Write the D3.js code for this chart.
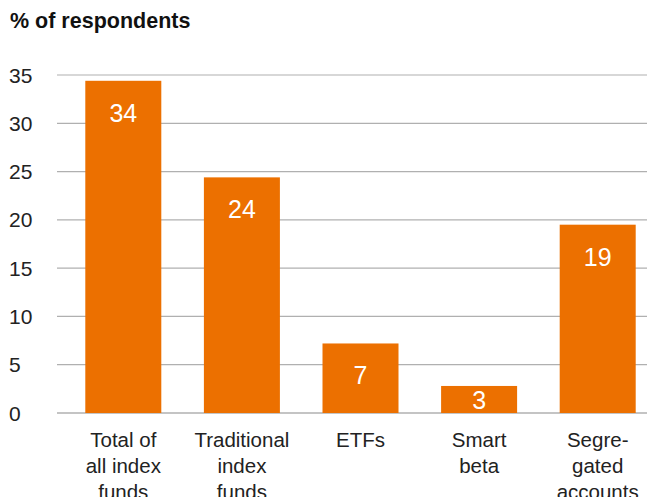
<!DOCTYPE html>
<html><head><meta charset="utf-8">
<script src="https://cdn.jsdelivr.net/npm/d3@7"></script>
<style>body{margin:0;background:#fff}svg{display:block;font-family:"Liberation Sans",Arial,sans-serif}</style>
</head><body>
<svg id="c" width="647" height="497"></svg>
<script>
const categories = [["Total of","all index","funds"],["Traditional","index","funds"],["ETFs"],["Smart","beta"],["Segre-","gated","accounts"]];
const values = [34.4, 24.4, 7.2, 2.8, 19.5];
const valueLabels = ["34","24","7","3","19"];
const yTicks = [0,5,10,15,20,25,30,35];

const svg = d3.select("#c");
const y = d3.scaleLinear().domain([0,35]).range([413,75]);
const x = d3.scaleBand().domain(d3.range(values.length)).range([64,657]).paddingInner(0.36).paddingOuter(0.18);

svg.append("text").attr("x",10).attr("y",28).attr("font-size",21.5).attr("font-weight","bold").attr("fill","#111").text("% of respondents");

const g = svg.append("g");
yTicks.forEach(t=>{
  g.append("line").attr("x1",57).attr("x2",647).attr("y1",y(t)).attr("y2",y(t))
   .attr("stroke", t===0?"#c4c4c4":"#b0b0b0").attr("stroke-width", t===0?2:1.2);
  g.append("text").attr("x",9).attr("y",y(t)+7.5).attr("font-size",21).attr("fill","#222").text(t);
});

const bw = 76;
values.forEach((v,i)=>{
  const cx = x(i)+x.bandwidth()/2;
  g.append("rect").attr("x",cx-bw/2).attr("y",y(v)).attr("width",bw).attr("height",y(0)-y(v)).attr("fill","#ec7000");
  const ly = Math.min(y(v)+32, y(0)-13);
  g.append("text").attr("x",cx).attr("y",ly).attr("dy","0.36em").attr("text-anchor","middle")
   .attr("font-size",25).attr("fill","#fff").text(valueLabels[i]);
  categories[i].forEach((line,j)=>{
    g.append("text").attr("x",cx).attr("y",447+j*26).attr("text-anchor","middle")
     .attr("font-size",20.5).attr("fill","#222").text(line);
  });
});
</script>
</body></html>
